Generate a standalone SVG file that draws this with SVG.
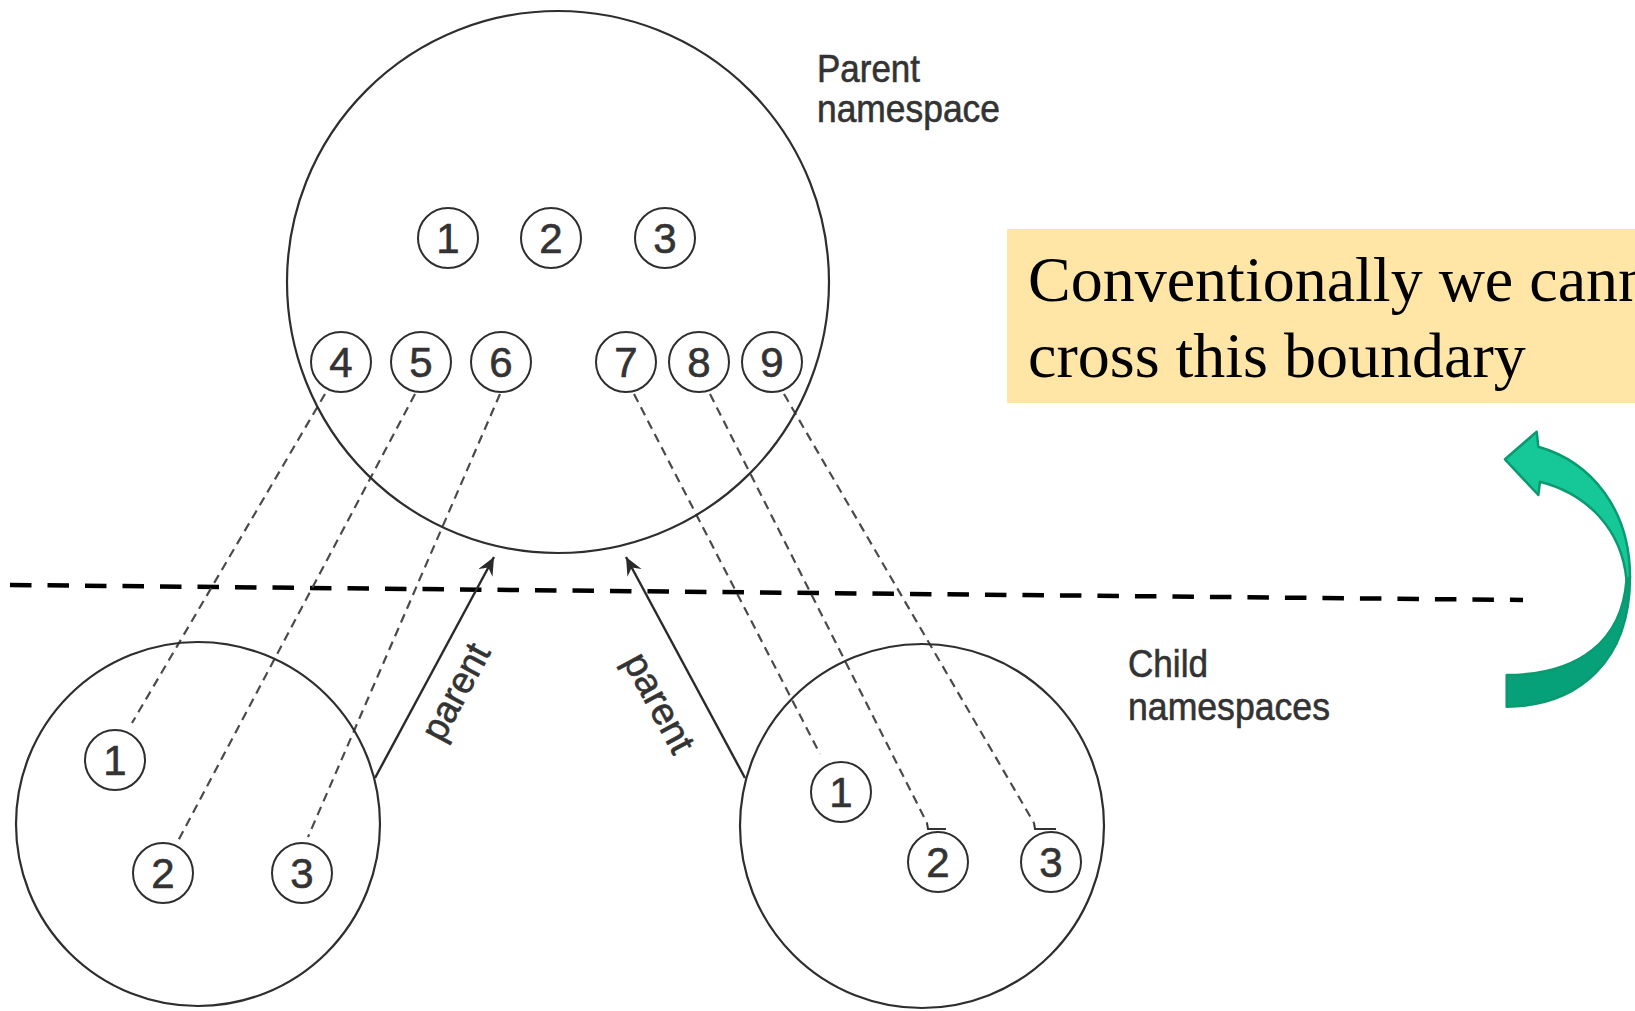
<svg xmlns="http://www.w3.org/2000/svg" width="1635" height="1011" viewBox="0 0 1635 1011">
<style>
.big{fill:none;stroke:#2e2e2e;stroke-width:2.2}
.sm{fill:#fff;stroke:#2e2e2e;stroke-width:2}
.dg{font-family:"Liberation Sans",Arial,sans-serif;font-size:42px;fill:#333;stroke:#333;stroke-width:0.6;text-anchor:middle}
.lbl{font-family:"Liberation Sans",Arial,sans-serif;font-size:38px;fill:#333;stroke:#333;stroke-width:0.6}
.dash{fill:none;stroke:#4a4a4a;stroke-width:2.2;stroke-dasharray:9 6}
.arr{fill:none;stroke:#2a2a2a;stroke-width:2.4}
.note{font-family:"Liberation Serif","Times New Roman",serif;font-size:64px;fill:#000}
</style>
<defs>
<marker id="ah" markerUnits="userSpaceOnUse" markerWidth="24" markerHeight="20" refX="18" refY="8" orient="auto">
<path d="M18,8 L0,0 L6,8 L0,16 Z" fill="#2a2a2a"/>
</marker>
</defs>
<rect width="1635" height="1011" fill="#fff"/>

<g id="connectors">
<line x1="10" y1="585" x2="1523" y2="600" stroke="#000" stroke-width="4.5" stroke-dasharray="21.5 16"/>
<path class="dash" d="M325,394 L132,723"/>
<path class="dash" d="M415,394 L177,843"/>
<path class="dash" d="M500,394 L308,837"/>
<path class="dash" d="M634,394 L820,754"/>
<path class="dash" d="M710,394 L927,823"/>
<path class="dash" d="M784,394 L1034,823"/>
<path fill="none" stroke="#333" stroke-width="2" d="M927,823 L928,829 L946,829 M1034,823 L1035,829 L1056,829"/>
<line class="arr" x1="375" y1="778" x2="494" y2="557" marker-end="url(#ah)"/>
<line class="arr" x1="745" y1="778" x2="626" y2="557" marker-end="url(#ah)"/>
<text class="lbl" text-anchor="middle" textLength="104" lengthAdjust="spacingAndGlyphs" transform="translate(458,693) rotate(-61.7)" x="0" y="10">parent</text>
<text class="lbl" text-anchor="middle" textLength="108" lengthAdjust="spacingAndGlyphs" transform="translate(657,704) rotate(61.7)" x="0" y="10">parent</text>
</g>

<g id="parent-namespace">
<circle class="big" cx="558" cy="282" r="271"/>
<text class="lbl" x="817" y="82" textLength="103" lengthAdjust="spacingAndGlyphs">Parent</text>
<text class="lbl" x="817" y="122" textLength="183" lengthAdjust="spacingAndGlyphs">namespace</text>
</g>
<g id="p1"><circle class="sm" cx="448" cy="238" r="30"/><text class="dg" x="448" y="253">1</text></g>
<g id="p2"><circle class="sm" cx="551" cy="238" r="30"/><text class="dg" x="551" y="253">2</text></g>
<g id="p3"><circle class="sm" cx="665" cy="238" r="30"/><text class="dg" x="665" y="253">3</text></g>
<g id="p4"><circle class="sm" cx="341" cy="362" r="30"/><text class="dg" x="341" y="377">4</text></g>
<g id="p5"><circle class="sm" cx="421" cy="362" r="30"/><text class="dg" x="421" y="377">5</text></g>
<g id="p6"><circle class="sm" cx="501" cy="362" r="30"/><text class="dg" x="501" y="377">6</text></g>
<g id="p7"><circle class="sm" cx="626" cy="362" r="30"/><text class="dg" x="626" y="377">7</text></g>
<g id="p8"><circle class="sm" cx="699" cy="362" r="30"/><text class="dg" x="699" y="377">8</text></g>
<g id="p9"><circle class="sm" cx="772" cy="362" r="30"/><text class="dg" x="772" y="377">9</text></g>

<g id="child-left">
<circle class="big" cx="198" cy="824" r="182"/>
</g>
<g id="cl1"><circle class="sm" cx="115" cy="760" r="30"/><text class="dg" x="115" y="775">1</text></g>
<g id="cl2"><circle class="sm" cx="163" cy="873" r="30"/><text class="dg" x="163" y="888">2</text></g>
<g id="cl3"><circle class="sm" cx="302" cy="873" r="30"/><text class="dg" x="302" y="888">3</text></g>

<g id="child-right">
<circle class="big" cx="922" cy="826" r="182"/>
<text class="lbl" x="1128" y="677" textLength="80" lengthAdjust="spacingAndGlyphs">Child</text>
<text class="lbl" x="1128" y="720" textLength="202" lengthAdjust="spacingAndGlyphs">namespaces</text>
</g>
<g id="cr1"><circle class="sm" cx="841" cy="792" r="30"/><text class="dg" x="841" y="807">1</text></g>
<g id="cr2"><circle class="sm" cx="938" cy="862" r="30"/><text class="dg" x="938" y="877">2</text></g>
<g id="cr3"><circle class="sm" cx="1051" cy="862" r="30"/><text class="dg" x="1051" y="877">3</text></g>

<g id="note">
<rect x="1007" y="229" width="628" height="174" fill="#FFE6A6"/>
<text class="note" x="1028" y="301">Conventionally we cann</text>
<text class="note" x="1028" y="377">cross this boundary</text>
</g>

<g id="curved-arrow" stroke="#0A9A70" stroke-width="2.5" stroke-linejoin="round">
<path fill="#07A179" d="M1506.7,706.7 C1580,706 1630,660 1630,577 L1626.5,580 C1622,640 1580,675 1506.7,675 Z"/>
<path fill="#16C898" d="M1630,577 C1630,510 1592,462 1538.3,446.7 L1536.7,431.7 L1505,459.3 L1538.3,495 L1540,481.7 C1588,494 1622,530 1626.5,580 Z"/>
</g>
</svg>
